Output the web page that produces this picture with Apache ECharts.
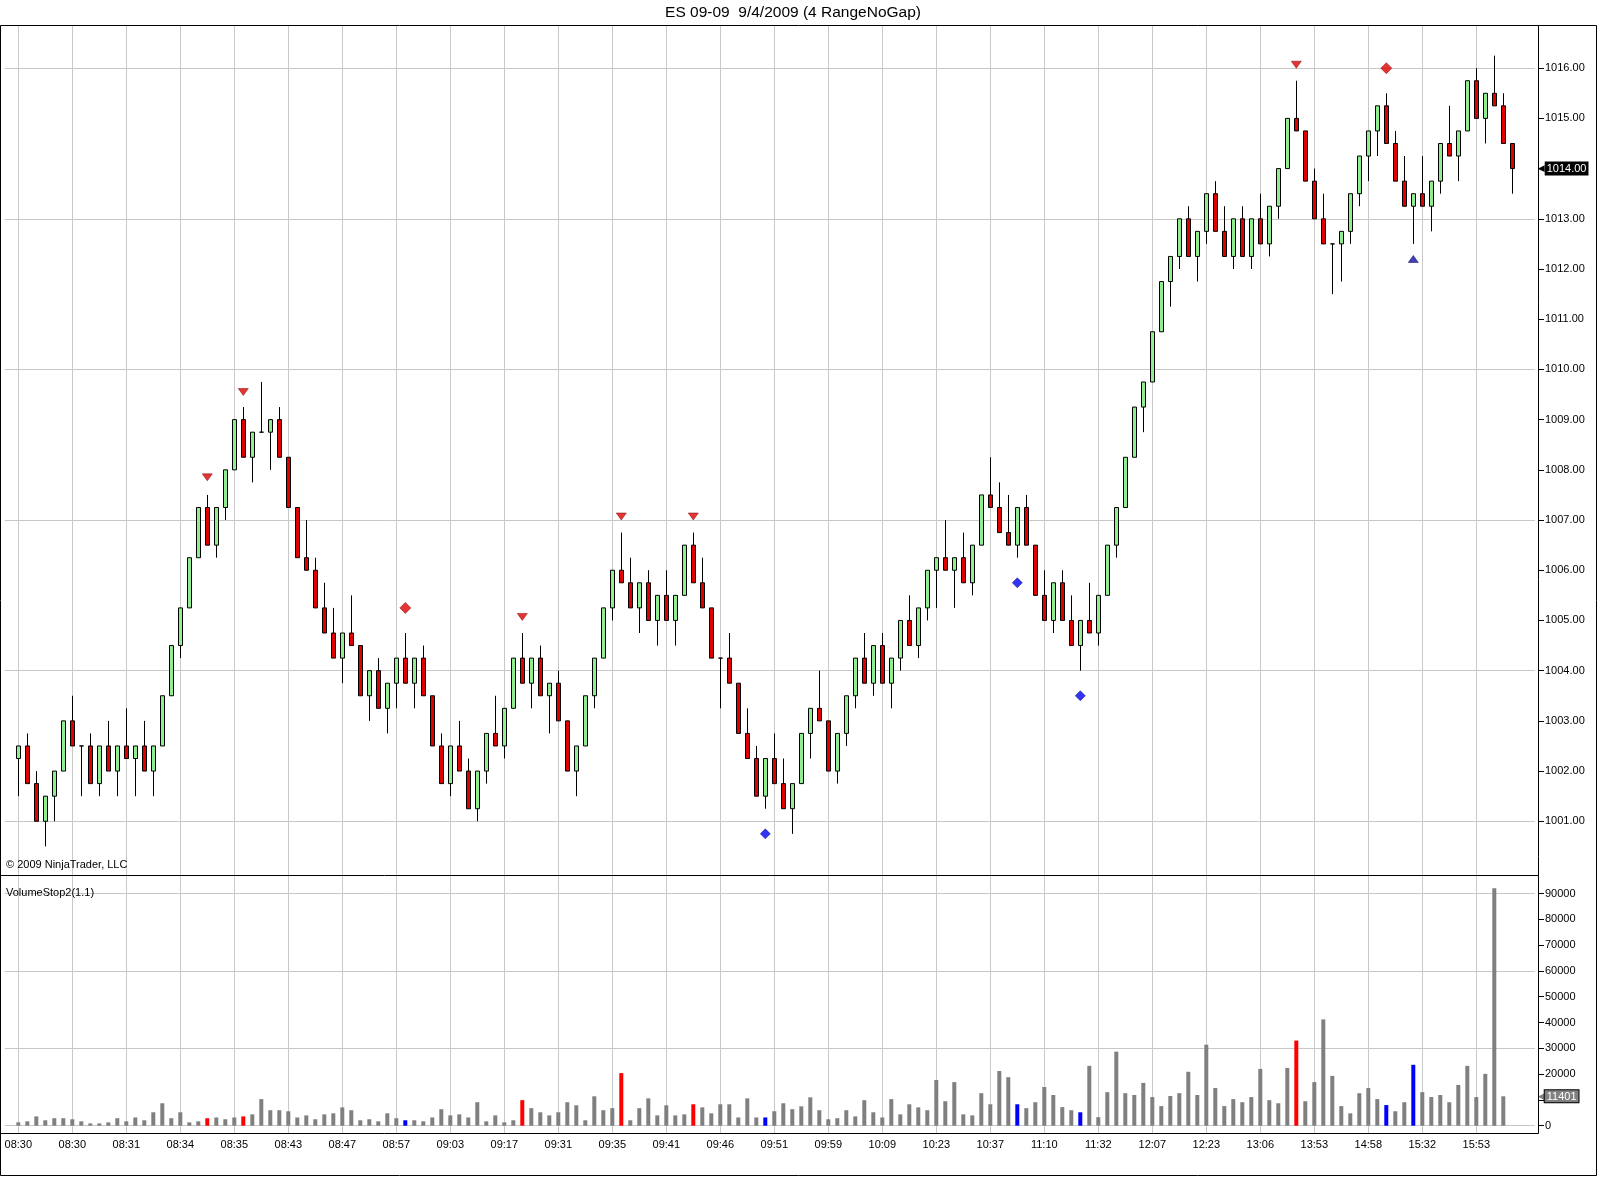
<!DOCTYPE html>
<html>
<head>
<meta charset="utf-8">
<script src="https://cdn.jsdelivr.net/npm/echarts@6/dist/echarts.min.js"></script>
<style>
html,body{margin:0;padding:0;background:#fff;}
#chart{width:1600px;height:1177px;}
</style>
</head>
<body>
<div id="chart"></div>
<script>
// ---------------- DATA ----------------
const barNumbers = Array.from({length: 167}, (_, i) => String(i + 1));

const tickLabels = ['08:30','08:30','08:31','08:34','08:35','08:43','08:47','08:57','09:03','09:17',
  '09:31','09:35','09:41','09:46','09:51','09:59','10:09','10:23','10:37','11:10',
  '11:32','12:07','12:23','13:06','13:53','14:58','15:32','15:53'];

const priceTicks = [1001,1002,1003,1004,1005,1006,1007,1008,1009,1010,1011,1012,1013,1014,1015,1016];
const volumeTicks = [0,10000,20000,30000,40000,50000,60000,70000,80000,90000];

const opens = [1002.25,1002.5,1001.75,1001,1001.5,1002,1003,1002.5,1002.5,1001.75,
1002.5,1002,1002.5,1002.25,1002.5,1002,1002.5,1003.5,1004.5,1005.25,
1006.25,1007.25,1006.5,1007.25,1008,1009,1008.25,1008.75,1008.75,1009,
1008.25,1007.25,1006.25,1006,1005.25,1004.75,1004.25,1004.75,1004.5,1003.5,
1004,1003.25,1003.75,1004.25,1003.75,1004.25,1003.5,1002.5,1001.75,1002.5,
1002,1001.25,1002,1002.75,1002.5,1003.25,1004.25,1003.75,1004.25,1003.5,
1003.75,1003,1002,1002.5,1003.5,1004.25,1005.25,1006,1005.75,1005.25,
1005.75,1005,1005.5,1005,1005.5,1006.5,1005.75,1005.25,1004.25,1004.25,
1003.75,1002.75,1002.25,1001.5,1002.25,1001.75,1001.25,1001.75,1002.75,1003.25,
1003,1002,1002.75,1003.5,1004.25,1003.75,1004.5,1003.75,1004.25,1005,
1004.5,1005.25,1006,1006.25,1006,1006.25,1005.75,1006.5,1007.5,1007.25,
1006.75,1006.5,1007.25,1006.5,1005.5,1005,1005.75,1005,1004.5,1005,
1004.75,1005.5,1006.5,1007.25,1008.25,1009.25,1009.75,1010.75,1011.75,1012.25,
1013,1012.25,1012.75,1013.5,1012.75,1012.25,1013,1012.25,1013,1012.5,
1013.25,1014,1015,1014.75,1013.75,1013,1012.5,1012.5,1012.75,1013.5,
1014.25,1014.75,1015.25,1014.5,1013.75,1013.25,1013.5,1013.25,1013.75,1014.5,
1014.25,1014.75,1015.75,1015,1015.5,1015.25,1014.5];

const closes = [1002.5,1001.75,1001,1001.5,1002,1003,1002.5,1002.5,1001.75,1002.5,
1002,1002.5,1002.25,1002.5,1002,1002.5,1003.5,1004.5,1005.25,1006.25,
1007.25,1006.5,1007.25,1008,1009,1008.25,1008.75,1008.75,1009,1008.25,
1007.25,1006.25,1006,1005.25,1004.75,1004.25,1004.75,1004.5,1003.5,1004,
1003.25,1003.75,1004.25,1003.75,1004.25,1003.5,1002.5,1001.75,1002.5,1002,
1001.25,1002,1002.75,1002.5,1003.25,1004.25,1003.75,1004.25,1003.5,1003.75,
1003,1002,1002.5,1003.5,1004.25,1005.25,1006,1005.75,1005.25,1005.75,
1005,1005.5,1005,1005.5,1006.5,1005.75,1005.25,1004.25,1004.25,1003.75,
1002.75,1002.25,1001.5,1002.25,1001.75,1001.25,1001.75,1002.75,1003.25,1003,
1002,1002.75,1003.5,1004.25,1003.75,1004.5,1003.75,1004.25,1005,1004.5,
1005.25,1006,1006.25,1006,1006.25,1005.75,1006.5,1007.5,1007.25,1006.75,
1006.5,1007.25,1006.5,1005.5,1005,1005.75,1005,1004.5,1005,1004.75,
1005.5,1006.5,1007.25,1008.25,1009.25,1009.75,1010.75,1011.75,1012.25,1013,
1012.25,1012.75,1013.5,1012.75,1012.25,1013,1012.25,1013,1012.5,1013.25,
1014,1015,1014.75,1013.75,1013,1012.5,1012.5,1012.75,1013.5,1014.25,
1014.75,1015.25,1014.5,1013.75,1013.25,1013.5,1013.25,1013.75,1014.5,1014.25,
1014.75,1015.75,1015,1015.5,1015.25,1014.5,1014];

const lows = [1001.5,1001.75,1001,1000.5,1001,1002,1002.5,1001.5,1001.75,1001.5,
1002,1001.5,1002.25,1001.5,1002,1001.5,1002.5,1003.5,1004.25,1005.25,
1006.25,1006.5,1006.25,1007,1008,1008.25,1007.75,1008.75,1008,1008.25,
1007.25,1006.25,1006,1005.25,1004.75,1004.25,1003.75,1004.5,1003.5,1003,
1003.25,1002.75,1003.25,1003.75,1003.25,1003.5,1002.5,1001.75,1001.5,1002,
1001.25,1001,1001.75,1002.5,1002.25,1003.25,1003.75,1003.25,1003.5,1002.75,
1003,1002,1001.5,1002.5,1003.25,1004.25,1005,1005.75,1005.25,1004.75,
1005,1004.5,1005,1004.5,1005.5,1005.75,1005.25,1004.25,1003.25,1003.75,
1002.75,1002.25,1001.5,1001.25,1001.75,1001.25,1000.75,1001.75,1002.25,1003,
1002,1001.75,1002.5,1003.25,1003.75,1003.5,1003.75,1003.25,1004,1004.5,
1004.25,1005,1005.25,1006,1005.25,1005.75,1005.5,1006.5,1007.25,1006.75,
1006.5,1006.25,1006.5,1005.5,1005,1004.75,1005,1004.5,1004,1004.75,
1004.5,1005.5,1006.25,1007.25,1008.25,1008.75,1009.75,1010.75,1011.25,1012,
1012.25,1011.75,1012.5,1012.75,1012.25,1012,1012.25,1012,1012.5,1012.25,
1013,1014,1014.75,1013.75,1013,1012.5,1011.5,1011.75,1012.5,1013.25,
1013.75,1014.25,1014.5,1013.75,1013.25,1012.5,1013.25,1012.75,1013.5,1014.25,
1013.75,1014.75,1015,1014.5,1015.25,1014.5,1013.5];

const highs = [1002.5,1002.75,1002,1001.5,1002,1003,1003.5,1002.5,1002.75,1002.5,
1003,1002.5,1003.25,1002.5,1003,1002.5,1003.5,1004.5,1005.25,1006.25,
1007.25,1007.5,1007.25,1008,1009,1009.25,1008.75,1009.75,1009,1009.25,
1008.25,1007.25,1007,1006.25,1005.75,1005.25,1004.75,1005.5,1004.5,1004,
1004.25,1003.75,1004.25,1004.75,1004.25,1004.5,1003.5,1002.75,1002.5,1003,
1002.25,1002,1002.75,1003.5,1003.25,1004.25,1004.75,1004.25,1004.5,1003.75,
1004,1003,1002.5,1003.5,1004.25,1005.25,1006,1006.75,1006.25,1005.75,
1006,1005.5,1006,1005.5,1006.5,1006.75,1006.25,1005.25,1004.25,1004.75,
1003.75,1003.25,1002.5,1002.25,1002.75,1002.25,1001.75,1002.75,1003.25,1004,
1003,1002.75,1003.5,1004.25,1004.75,1004.5,1004.75,1004.25,1005,1005.5,
1005.25,1006,1006.25,1007,1006.25,1006.75,1006.5,1007.5,1008.25,1007.75,
1007.5,1007.25,1007.5,1006.5,1006,1005.75,1006,1005.5,1005,1005.75,
1005.5,1006.5,1007.25,1008.25,1009.25,1009.75,1010.75,1011.75,1012.25,1013,
1013.25,1012.75,1013.5,1013.75,1013.25,1013,1013.25,1013,1013.5,1013.25,
1014,1015,1015.75,1014.75,1014,1013.5,1012.5,1012.75,1013.5,1014.25,
1014.75,1015.25,1015.5,1014.75,1014.25,1013.5,1014.25,1013.75,1014.5,1015.25,
1014.75,1015.75,1016,1015.5,1016.25,1015.5,1014.5];

const volumes = [1300,1700,3600,2100,2900,2900,2500,1700,900,900,
1300,2900,1700,3200,2100,5200,8700,2900,5200,1300,
1700,2900,3200,2500,3200,3600,4400,10300,6000,6000,
5600,3200,4000,2500,4400,4800,7100,6000,2100,2500,
1700,4800,2900,2100,2100,1700,3200,6400,4000,4400,
3200,9100,1700,4000,1300,2100,9900,6800,5200,4000,
5200,9100,7900,2100,11400,6000,6800,20400,2100,6800,
10600,4000,7900,4000,4400,8300,7100,4800,8300,8300,
3200,10600,3200,3200,5600,8700,6400,7500,11000,6000,
2500,2900,6000,3600,9900,5200,3200,10300,4400,8300,
7100,6000,17700,9500,16900,4400,4000,12600,8300,21200,
18800,8300,6800,9100,15000,11900,7200,6000,5200,23200,
3300,13000,28700,12600,11900,16600,11100,7600,11500,12600,
20900,11900,31400,14600,7600,10300,9100,11100,22000,9900,
8700,22400,33000,9500,16900,41200,19300,7600,4800,12600,
14600,10300,8000,5600,9100,23600,13000,11100,11900,9100,
15800,23200,11100,20100,92000,11401];

const redVolumeBars = [22, 26, 57, 68, 76, 143];
const blueVolumeBars = [44, 84, 112, 119, 153, 156];

// signal markers: [bar number, price]
const redDownTriangles = [[22, 1007.85], [26, 1009.55], [57, 1005.07], [68, 1007.07], [76, 1007.07], [143, 1016.07]];
const redDiamonds = [[44, 1005.25], [153, 1016.0]];
const blueDiamonds = [[84, 1000.75], [112, 1005.75], [119, 1003.5]];
const blueUpTriangles = [[156, 1012.2]];

const priceGridLevels = [1001, 1004, 1007, 1010, 1013, 1016];
const volumeGridLevels = [0, 30000, 60000, 90000];

// ---------------- CHART ----------------
const FONT = '"Liberation Sans", Arial, sans-serif';
const GRID_COLOR = '#c8c8c8';
const chart = echarts.init(document.getElementById('chart'), null, {renderer: 'canvas', width: 1600, height: 1177});

const candleData = opens.map((o, i) => [o, closes[i], lows[i], highs[i]]);
const volData = volumes.map((v, i) => {
  const n = i + 1;
  const c = redVolumeBars.includes(n) ? '#ff0000' : (blueVolumeBars.includes(n) ? '#0000ff' : '#808080');
  return {value: v, itemStyle: {color: c}};
});
const labelIdx = tickLabels.map((_, k) => k * 6);
const toXY = arr => arr.map(([b, p]) => [b - 1, p]);
const isLabelIdx = (i) => i >= 0 && i % 6 === 0 && i / 6 < tickLabels.length;

const lastClose = closes[closes.length - 1];
const lastVolume = volumes[volumes.length - 1];

const gridLineStyle = {color: GRID_COLOR, width: 1, type: 'solid', opacity: 1};
const hiddenLine = {color: 'rgba(0,0,0,0)', width: 1, type: 'solid', opacity: 1};

const priceMarkLine = {
  silent: true, symbol: 'none', z: 1, animation: false,
  label: {show: false},
  lineStyle: gridLineStyle,
  data: [
    ...priceGridLevels.map(v => ({yAxis: v})),
    ...labelIdx.map(i => ({xAxis: i})),
    {yAxis: lastClose, lineStyle: hiddenLine,
     label: {show: true, position: 'end', distance: 3, opacity: 1,
             formatter: () => '{a|\u25C0}{b|' + lastClose.toFixed(2) + '}',
             rich: {
               a: {color: '#000', fontSize: 9, fontFamily: 'DejaVu Sans', padding: [0, 0, 0, 0]},
               b: {backgroundColor: '#000', color: '#fff', padding: [2, 2, 1, 2], fontSize: 11, fontFamily: FONT}
             }}}
  ]
};
const volMarkLine = {
  silent: true, symbol: 'none', z: 1, animation: false,
  label: {show: false},
  lineStyle: gridLineStyle,
  data: [
    ...volumeGridLevels.map(v => ({yAxis: v})),
    ...labelIdx.map(i => ({xAxis: i})),
    {yAxis: lastVolume, lineStyle: hiddenLine,
     label: {show: true, position: 'end', distance: 3, opacity: 1,
             formatter: () => '{a|\u25C0}{b|' + lastVolume + '}',
             rich: {
               a: {color: '#808080', fontSize: 9, fontFamily: 'DejaVu Sans'},
               b: {backgroundColor: '#808080', color: '#fff', borderColor: '#000', borderWidth: 1,
                   padding: [1, 2, 0, 2], fontSize: 11, fontFamily: FONT}
             }}}
  ]
};

const GL = 4.8, GR = 65.2;

const option = {
  animation: false,
  backgroundColor: '#fff',
  textStyle: {fontFamily: FONT},
  grid: [
    {left: GL, right: GR, top: 25, bottom: 1177 - 875},
    {left: GL, right: GR, top: 875, bottom: 1177 - 1133.3}
  ],
  xAxis: [
    {gridIndex: 0, type: 'category', data: barNumbers, min: -1, max: 168, boundaryGap: true,
     axisLine: {show: false}, axisTick: {show: false}, axisLabel: {show: false}, splitLine: {show: false}},
    {gridIndex: 1, type: 'category', data: barNumbers, min: -1, max: 168, boundaryGap: true,
     axisLine: {show: false},
     axisTick: {show: true, alignWithLabel: true, length: 6, interval: (i) => isLabelIdx(i), lineStyle: {color: '#000'}},
     axisLabel: {show: true, interval: (i) => isLabelIdx(i), margin: 6, fontSize: 11, color: '#000', fontFamily: FONT,
                 formatter: (val) => { const n = Number(val); if (!n) return ''; const k = (n - 1) / 6; return tickLabels[k] || ''; }},
     splitLine: {show: false}}
  ],
  yAxis: [
    {gridIndex: 0, type: 'value', position: 'right', offset: 3.2, min: 999.93, max: 1016.86,
     axisLine: {show: false},
     axisTick: {show: true, length: 6, customValues: priceTicks, lineStyle: {color: '#000'}},
     axisLabel: {margin: 7, fontSize: 11, color: '#000', fontFamily: FONT, customValues: priceTicks,
                 formatter: (v) => Number(v).toFixed(2)},
     splitLine: {show: false}},
    {gridIndex: 1, type: 'value', position: 'right', offset: 3.2, min: -2946, max: 97170,
     axisLine: {show: false},
     axisTick: {show: true, length: 6, customValues: volumeTicks, lineStyle: {color: '#000'}},
     axisLabel: {margin: 7, fontSize: 11, color: '#000', fontFamily: FONT, customValues: volumeTicks,
                 formatter: (v) => String(v)},
     splitLine: {show: false}}
  ],
  series: [
    {type: 'candlestick', xAxisIndex: 0, yAxisIndex: 0, data: candleData, barWidth: 5,
     itemStyle: {color: '#90ee90', color0: '#e00000', borderColor: '#000', borderColor0: '#000', borderWidth: 1},
     markLine: priceMarkLine},
    {type: 'bar', xAxisIndex: 1, yAxisIndex: 1, data: volData, barWidth: 4, markLine: volMarkLine},
    {type: 'scatter', xAxisIndex: 0, yAxisIndex: 0, data: toXY(redDownTriangles), symbol: 'triangle', symbolRotate: 180,
     symbolSize: [10, 7], itemStyle: {color: '#e00000', borderColor: '#7a0000', borderWidth: 0.6}, z: 4},
    {type: 'scatter', xAxisIndex: 0, yAxisIndex: 0, data: toXY(redDiamonds), symbol: 'diamond',
     symbolSize: [11, 11], itemStyle: {color: '#e00000', borderColor: '#7a0000', borderWidth: 0.6}, z: 4},
    {type: 'scatter', xAxisIndex: 0, yAxisIndex: 0, data: toXY(blueDiamonds), symbol: 'diamond',
     symbolSize: [10, 10], itemStyle: {color: '#0000ee', borderColor: '#000080', borderWidth: 0.6}, z: 4},
    {type: 'scatter', xAxisIndex: 0, yAxisIndex: 0, data: toXY(blueUpTriangles), symbol: 'triangle',
     symbolSize: [10, 7], itemStyle: {color: '#1010a0', borderColor: '#000060', borderWidth: 0.6}, z: 4}
  ],
  graphic: [
    {type: 'rect', shape: {x: 0.5, y: 25.5, width: 1596, height: 1150}, style: {fill: 'none', stroke: '#000', lineWidth: 1}, silent: true, z: 10},
    {type: 'line', shape: {x1: 0, y1: 875.5, x2: 1538.5, y2: 875.5}, style: {stroke: '#000', lineWidth: 1}, silent: true, z: 10},
    {type: 'line', shape: {x1: 1538.5, y1: 25, x2: 1538.5, y2: 1133.5}, style: {stroke: '#000', lineWidth: 1}, silent: true, z: 10},
    {type: 'line', shape: {x1: 0, y1: 1133.5, x2: 1538.5, y2: 1133.5}, style: {stroke: '#000', lineWidth: 1}, silent: true, z: 10},
    {type: 'text', x: 793, y: 13, silent: true, z: 10,
     style: {text: 'ES 09-09  9/4/2009 (4 RangeNoGap)', font: '15.5px ' + FONT, fill: '#000', textAlign: 'center', textVerticalAlign: 'middle'}},
    {type: 'text', x: 6, y: 865, silent: true, z: 10,
     style: {text: '\u00A9 2009 NinjaTrader, LLC', font: '11px ' + FONT, fill: '#000', textAlign: 'left', textVerticalAlign: 'middle'}},
    {type: 'text', x: 6, y: 893, silent: true, z: 10,
     style: {text: 'VolumeStop2(1.1)', font: '11px ' + FONT, fill: '#000', textAlign: 'left', textVerticalAlign: 'middle'}}
  ]
};
chart.setOption(option);
</script>
</body>
</html>
